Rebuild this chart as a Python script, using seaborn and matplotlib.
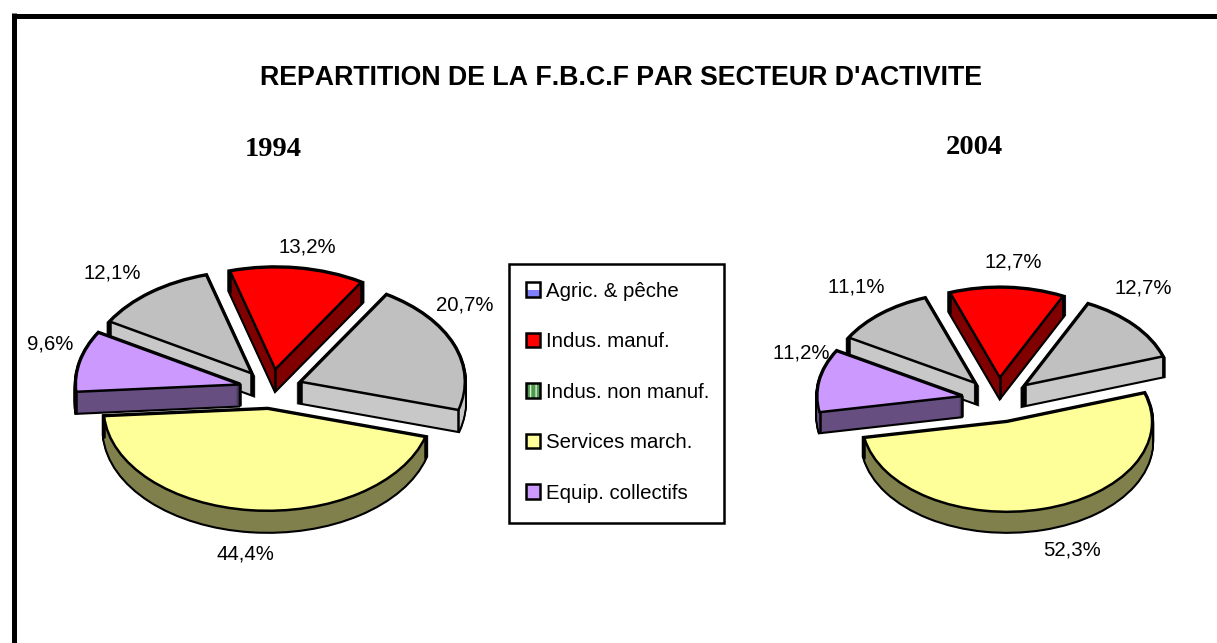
from matplotlib import pyplot as plt
from matplotlib.legend_handler import HandlerPatch
from matplotlib.lines import Line2D
from matplotlib.patches import Patch, Rectangle
import seaborn as sns
import numpy as np

# ---------- DATA ----------
values_1994 = [13.2, 20.7, 44.4, 9.6, 12.1]
values_2004 = [12.7, 12.7, 52.3, 11.2, 11.1]
labels_1994 = ['13,2%', '20,7%', '44,4%', '9,6%', '12,1%']
labels_2004 = ['12,7%', '12,7%', '52,3%', '11,2%', '11,1%']
legend_labels = ['Agric. & pêche', 'Indus. manuf.', 'Indus. non manuf.', 'Services march.', 'Equip. collectifs']
title = "REPARTITION DE LA F.B.C.F PAR SECTEUR D'ACTIVITE"

# ---------- STYLE ----------
W, H = 1217, 643
BLACK = '#000000'
LW = 1.8
top_colors = ['#ff0000', '#c0c0c0', '#ffff99', '#cc99ff', '#c0c0c0']
side_colors = ['#800000', '#c8c8c8', '#80804d', '#664e80', '#c8c8c8']
legend_colors = ['#ffffff', '#ff0000', '#4f9a4f', '#ffff99', '#cc99ff']
draw_rank = [1, 2, 4, 3, 0]   # back to front

sns.set_theme(style='white')
plt.rcParams['font.family'] = ['Liberation Sans', 'DejaVu Sans']
plt.rcParams['text.kerning_factor'] = 6

fig = plt.figure(figsize=(W / 100, H / 100), dpi=100, facecolor='white')


def px(x, y):
    return x / W, 1 - y / H


def draw_pie(values, cx, cy, rx, ry, depth_px, start, explode):
    ax = fig.add_axes([(cx - 1.4 * rx) / W, 1 - (cy + 1.6 * ry) / H, 2.8 * rx / W, 3.2 * ry / H])
    depth = depth_px / ry
    expl = [explode] * len(values)

    # extrusion: black silhouette first, then the fill on top of it
    for d in np.linspace(0, depth, depth_px + 1):
        blob, _ = ax.pie(values, explode=expl, startangle=start, counterclock=False, center=(0, -d),
                         colors=[BLACK] * 5, wedgeprops={'edgecolor': BLACK, 'linewidth': 3})
        fill, _ = ax.pie(values, explode=expl, startangle=start, counterclock=False, center=(0, -d),
                         colors=side_colors, wedgeprops={'linewidth': 0})
        for i in range(5):
            blob[i].set_zorder(draw_rank[i] * 10 + 1)
            fill[i].set_zorder(draw_rank[i] * 10 + 2)

    top, _ = ax.pie(values, explode=expl, startangle=start, counterclock=False,
                    colors=top_colors, wedgeprops={'edgecolor': BLACK, 'linewidth': LW})
    for i, w in enumerate(top):
        w.set_zorder(draw_rank[i] * 10 + 4)
        # vertical edges at the corners of the slice
        x0, y0 = w.center
        corners = [(x0, y0)]
        for t in (w.theta1, w.theta2):
            corners.append((x0 + np.cos(np.radians(t)), y0 + np.sin(np.radians(t))))
        for x, y in corners:
            ax.plot([x, x], [y, y - depth], color=BLACK, lw=LW, zorder=draw_rank[i] * 10 + 3)

    ax.set_aspect('auto')
    ax.set_xlim(-1.4, 1.4)
    ax.set_ylim(-1.6, 1.6)
    return ax


class TwoToneHandler(HandlerPatch):
    # swatch of the first legend entry: white on top, blue underneath
    def create_artists(self, legend, orig_handle, xd, yd, width, height, fontsize, trans):
        lower = Rectangle((-xd, -yd), width, height * 0.45, facecolor='#8080ff', edgecolor='none', transform=trans)
        upper = Rectangle((-xd, -yd), width, height, facecolor='none', edgecolor=BLACK, linewidth=LW, transform=trans)
        return [lower, upper]


class GridHandler(HandlerPatch):
    # swatch of the third legend entry: green with thin white lines
    def create_artists(self, legend, orig_handle, xd, yd, width, height, fontsize, trans):
        base = Rectangle((-xd, -yd), width, height, facecolor=legend_colors[2], edgecolor='none', transform=trans)
        grid = Rectangle((-xd, -yd), width, height, facecolor='none', edgecolor='#d8efd8', hatch='|||',
                         linewidth=0, transform=trans)
        upper = Rectangle((-xd, -yd), width, height, facecolor='none', edgecolor=BLACK, linewidth=LW, transform=trans)
        return [base, grid, upper]


draw_pie(values_1994, 271, 389, 164, 102, 21, 106, 0.195)
draw_pie(values_2004, 998, 400, 145, 90, 20, 110, 0.25)

# ---------- TEXT ----------
fig.text(*px(621, 78), title, ha='center', va='center', fontsize=19.3, fontweight='bold', color=BLACK)
fig.text(*px(273, 150), '1994', ha='center', va='center', fontsize=20.5, fontweight='bold',
         family='Liberation Serif', color=BLACK)
fig.text(*px(974, 148), '2004', ha='center', va='center', fontsize=20.5, fontweight='bold',
         family='Liberation Serif', color=BLACK)

label_pos_1994 = [(307, 247), (465, 305), (245, 554), (50, 344), (112, 273)]
label_pos_2004 = [(1013, 262), (1143, 288), (1072, 550), (801, 353), (856, 287)]
for txt, (x, y) in zip(labels_1994 + labels_2004, label_pos_1994 + label_pos_2004):
    fig.text(*px(x, y), txt, ha='center', va='center', fontsize=14.7, color=BLACK, zorder=20)

# ---------- LEGEND ----------
fig.add_artist(Rectangle(px(509, 523), 215 / W, 259 / H, transform=fig.transFigure,
                         facecolor='white', edgecolor=BLACK, linewidth=LW))
handles = [Patch(facecolor=c, edgecolor=BLACK, linewidth=LW) for c in legend_colors]
leg = fig.legend(handles, legend_labels, loc='upper left', bbox_to_anchor=px(508, 264),
                 bbox_transform=fig.transFigure, fontsize=14.7, frameon=False,
                 handlelength=0.7, handleheight=0.7, handletextpad=0.3,
                 labelspacing=1.54, borderpad=0.87, borderaxespad=0, labelcolor=BLACK,
                 handler_map={handles[0]: TwoToneHandler(), handles[2]: GridHandler()})

# ---------- FRAME ----------
fig.add_artist(Line2D([12 / W, 1], [1 - 15.5 / H, 1 - 15.5 / H], color=BLACK, lw=3.6, solid_capstyle='butt'))
fig.add_artist(Line2D([14.5 / W, 14.5 / W], [0, 1 - 13 / H], color=BLACK, lw=3.6, solid_capstyle='butt'))

fig.savefig('out.png', dpi=100, facecolor='white')
